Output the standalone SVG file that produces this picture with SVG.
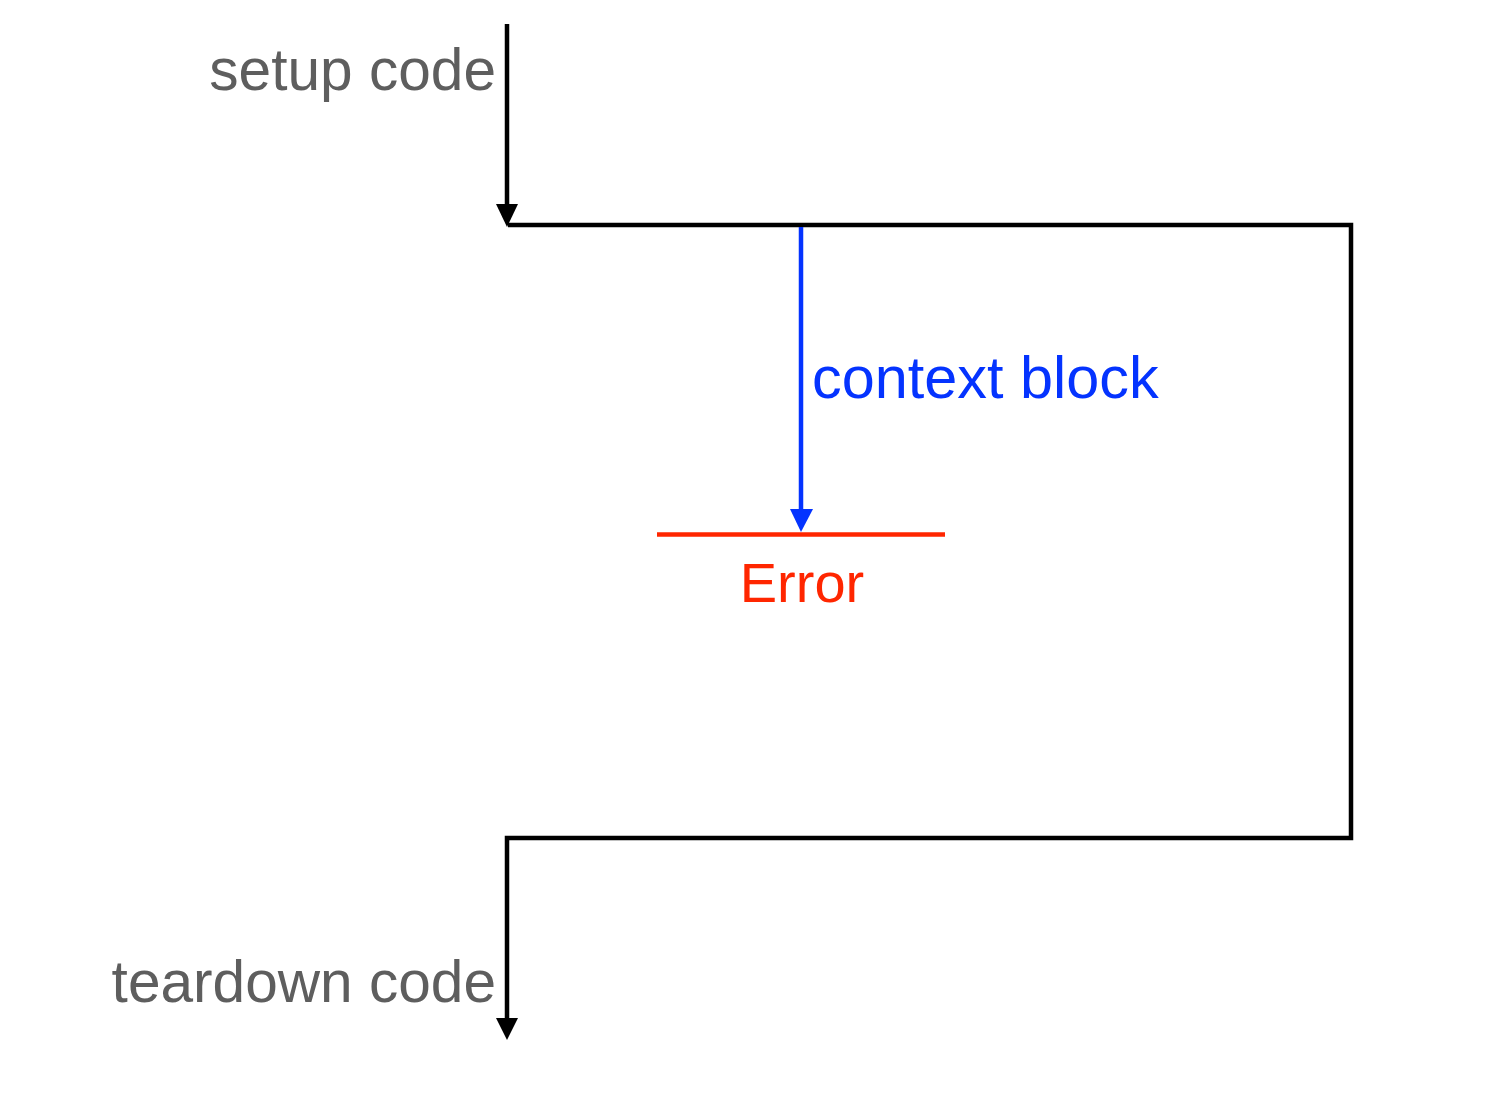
<svg xmlns="http://www.w3.org/2000/svg" width="1488" height="1096" viewBox="0 0 1488 1096">
<style>
.lbl{font-family:"Liberation Sans",Arial,sans-serif;font-size:58.6px}
.gray{fill:#5e5e5e}
.ln{fill:none;stroke-width:4.5;stroke-linecap:butt}
</style>
<rect width="1488" height="1096" fill="#ffffff"/>
<g id="connectors">
<path class="ln" stroke="#000" d="M507 24 V206"/>
<polygon points="496,204 518,204 507,227" fill="#000"/>
<path class="ln" stroke="#000" d="M508 225 H1351 V838 H507 V1020"/>
<polygon points="496,1018 518,1018 507,1040" fill="#000"/>
<path class="ln" stroke="#0433ff" d="M801 227 V511"/>
<polygon points="790,509 813,509 801,532" fill="#0433ff"/>
</g>
<g id="error">
<line x1="657" y1="534.5" x2="945" y2="534.5" stroke="#ff2600" stroke-width="4.5"/>
<text class="lbl" x="802" y="602" text-anchor="middle" fill="#ff2600" style="font-size:56px">Error</text>
</g>
<g id="setup"><text class="lbl gray" x="496" y="90" text-anchor="end">setup code</text></g>
<g id="teardown"><text class="lbl gray" x="496" y="1002" text-anchor="end">teardown code</text></g>
<g id="context"><text class="lbl" x="812" y="398" fill="#0433ff" style="font-size:59.4px">context block</text></g>
</svg>
